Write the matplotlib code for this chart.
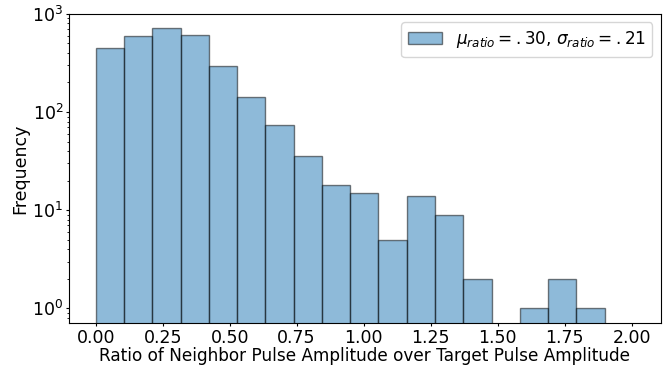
import numpy as np
import matplotlib
matplotlib.use("Agg")
import matplotlib.pyplot as plt

# histogram counts
counts = [446, 591, 725, 611, 292, 143, 74, 36, 18, 15, 5, 14, 9, 2, 0, 1, 2, 1]
bin_edges = np.linspace(0.0, 1.90, len(counts) + 1)
x_ticks = [0.00, 0.25, 0.50, 0.75, 1.00, 1.25, 1.50, 1.75, 2.00]
legend_label = r"$\mu_{ratio}=.30$, $\sigma_{ratio}=.21$"


def main():
    fig = plt.figure(figsize=(6.69, 3.65), dpi=100)
    ax = fig.add_axes([0.103, 0.115, 0.885, 0.847])
    ax.hist(bin_edges[:-1], bins=bin_edges, weights=counts, alpha=0.5,
            color="C0", edgecolor="black", linewidth=1.0, label=legend_label)
    ax.set_yscale("log")
    ax.set_ylim(0.71, 1000)
    ax.set_xlim(-0.1, 2.11)
    ax.set_xticks(x_ticks)
    ax.set_xticklabels([f"{t:.2f}" for t in x_ticks])
    ax.tick_params(which="major", labelsize=12.5, length=2.5, pad=1.5)
    ax.tick_params(which="minor", length=1.5)
    ax.set_xlabel("Ratio of Neighbor Pulse Amplitude over Target Pulse Amplitude",
                  fontsize=12.2, labelpad=0)
    ax.set_ylabel("Frequency", fontsize=12.5, labelpad=2)
    ax.legend(loc="upper right", fontsize=12.2)
    fig.savefig("out.png", dpi=100)


if __name__ == "__main__":
    main()
